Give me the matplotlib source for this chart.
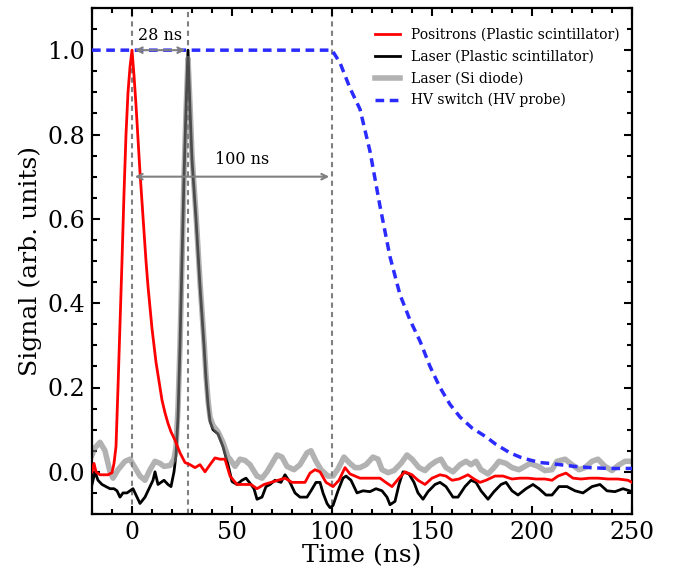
import matplotlib
matplotlib.use("Agg")
import matplotlib.pyplot as plt
from matplotlib.ticker import MultipleLocator

plt.rcParams['font.family'] = ['DejaVu Serif']
plt.rcParams['mathtext.fontset'] = 'dejavuserif'

# ---- data ----
pos_t = [-20, -19, -18, -16, -14, -12, -10, -9, -8, -7, -6, -5, -4, -3, -2, -1, 0, 1, 2, 3, 4, 5, 6, 7, 8, 9,
         10, 11, 12, 13, 14, 15, 16.5, 18, 19.5, 21.5, 24, 26.5, 29, 31.5, 34, 36.5, 39, 41.5, 44, 46.5, 49, 52.5,
         56, 59.5, 62.5, 66, 69.5, 73, 76.5, 80, 83.5, 86.5, 89, 91.5, 94, 97, 100.5, 103.5, 106.5, 109, 114,
         119, 124, 127.5, 130, 133.5, 136.5, 140, 143, 146.5, 150, 154, 157, 160, 163.5, 168, 171, 174, 177,
         181.5, 185.5, 190, 194, 198, 202, 206.5, 210, 213, 217, 220.5, 224.5, 229, 233, 238, 243, 248, 250]
pos_v = [0.0, 0.02, 0.0, -0.007, -0.007, -0.007, -0.002, 0.02, 0.06, 0.2, 0.35, 0.5, 0.66, 0.8, 0.9, 0.96,
         1.0, 0.94, 0.87, 0.79, 0.71, 0.64, 0.57, 0.5, 0.44, 0.39, 0.34, 0.3, 0.26, 0.23, 0.2, 0.17, 0.14,
         0.115, 0.095, 0.075, 0.045, 0.022, 0.017, 0.01, 0.017, 0.0, 0.017, 0.033, 0.03, 0.03, -0.01, -0.03, -0.03, -0.03,
         -0.04, -0.03, -0.025, -0.02, -0.015, -0.025, -0.025, -0.025, -0.003, 0.005, 0.0, -0.025, -0.035,
         -0.02, 0.01, -0.005, -0.015, -0.015, -0.015, -0.027, -0.035, -0.015, 0.0, -0.007, -0.02, -0.03,
         -0.015, -0.007, -0.01, -0.02, -0.017, -0.007, -0.017, -0.025, -0.02, -0.01, -0.01, -0.017, -0.015,
         -0.015, -0.017, -0.017, -0.02, -0.01, -0.003, -0.015, -0.017, -0.015, -0.015, -0.017, -0.017, -0.02,
         -0.025]

las_t = [-20, -18.5, -17, -15, -13, -11, -9, -7.5, -6, -4.5, -2.5, -1, 0.5, 2, 4, 6.5, 9, 10.5, 11.5, 13, 16,
         18, 19.5, 21, 22, 23, 24, 25, 26, 27, 28, 29, 30, 31, 32, 33, 34, 35, 36, 37, 38, 39, 40.5, 43, 45.5,
         48, 50, 52.5, 55, 57, 59.5, 61, 62.5, 65, 67, 69, 71.5, 74.5, 76.5, 79, 81.5, 84, 87.5, 89.5, 92, 94,
         95.5, 97.5, 99, 100.5, 103, 105.5, 107, 109.5, 112.5, 115.5, 119, 122, 125, 127.5, 129, 131.5, 133.5,
         135.5, 138.5, 141, 143, 145.5, 148, 151.5, 154, 157, 160.5, 163, 166.5, 169.5, 172, 174.5, 178, 181,
         184.5, 187, 190, 193, 197, 200.5, 203.5, 207, 210, 213.5, 217.5, 221.5, 225.5, 230, 234, 237.5,
         241.5, 245.5, 250]
las_v = [-0.03, 0.0, -0.02, -0.03, -0.035, -0.04, -0.04, -0.045, -0.06, -0.05, -0.05, -0.045, -0.04, -0.055,
         -0.075, -0.06, -0.035, -0.02, 0.0, -0.03, -0.02, -0.03, -0.035, 0.0, 0.04, 0.13, 0.3, 0.5, 0.7, 0.86,
         1.0, 0.86, 0.74, 0.67, 0.6, 0.52, 0.44, 0.37, 0.3, 0.22, 0.16, 0.12, 0.1, 0.09, 0.06, 0.017, -0.023,
         -0.03, -0.02, -0.015, -0.03, -0.04, -0.065, -0.06, -0.035, -0.03, -0.02, -0.025, -0.007, -0.025,
         -0.05, -0.06, -0.06, -0.045, -0.025, -0.025, -0.05, -0.075, -0.085, -0.08, -0.045, -0.015, -0.01,
         -0.02, -0.05, -0.045, -0.047, -0.04, -0.045, -0.06, -0.078, -0.07, -0.03, 0.0, -0.005, -0.025, -0.05,
         -0.065, -0.047, -0.03, -0.025, -0.035, -0.06, -0.06, -0.035, -0.02, -0.025, -0.045, -0.065, -0.047,
         -0.03, -0.025, -0.045, -0.055, -0.04, -0.03, -0.04, -0.055, -0.055, -0.035, -0.035, -0.045, -0.05,
         -0.035, -0.03, -0.045, -0.047, -0.04, -0.047]

si_t = [-20, -18.5, -16, -13.5, -11, -9.5, -7, -3.5, -1, 1.5, 4, 6.5, 9, 11.5, 14, 16, 19, 21, 22, 23, 24, 25,
        26, 27, 28, 29, 30, 31, 32, 33, 34, 35, 36, 37, 38, 39, 40.5, 43, 45.5, 48, 49, 51.5, 54, 56.5, 59,
        62.5, 65, 67.5, 70, 72.5, 75, 77.5, 81, 84, 87.5, 89.5, 92, 94.5, 98, 100.5, 103, 106, 109, 111.5, 114,
        117, 120.5, 123, 125, 128, 131, 134.5, 137.5, 140, 143.5, 146.5, 149, 152, 154.5, 157, 160.5, 164,
        167, 169.5, 172, 174.5, 178, 181, 183.5, 187, 190, 193.5, 196.5, 199, 203, 206.5, 210, 212.5, 216.5,
        220, 223.5, 226.5, 230, 233, 236.5, 240, 243, 246.5, 250]
si_v = [0.04, 0.057, 0.07, 0.05, 0.0, -0.015, 0.005, 0.025, 0.03, 0.01, -0.01, -0.02, 0.005, 0.025, 0.02,
        0.013, 0.015, 0.03, 0.06, 0.15, 0.3, 0.5, 0.7, 0.85, 0.98, 0.87, 0.75, 0.68, 0.61, 0.53, 0.45, 0.38,
        0.31, 0.23, 0.17, 0.13, 0.11, 0.095, 0.07, 0.035, 0.03, 0.013, 0.03, 0.027, 0.017, -0.01, -0.015, 0.0,
        0.02, 0.04, 0.035, 0.013, 0.005, 0.017, 0.045, 0.05, 0.025, 0.005, -0.01, -0.01, 0.007, 0.035, 0.02,
        0.01, 0.01, 0.017, 0.035, 0.03, 0.005, -0.002, 0.003, 0.02, 0.04, 0.03, 0.01, 0.003, 0.015, 0.025,
        0.03, 0.01, 0.0, 0.017, 0.025, 0.017, 0.025, 0.005, -0.005, 0.01, 0.025, 0.02, 0.01, 0.005, 0.013,
        0.02, 0.013, 0.003, 0.005, 0.025, 0.03, 0.017, 0.005, 0.01, 0.025, 0.03, 0.013, 0.003, 0.015, 0.025,
        0.025]

hv_t = [-20, 100, 104, 109, 114, 119, 124, 129, 134, 139, 144, 149, 154, 159, 164, 170, 177, 182, 189, 194,
        199, 204, 209, 214, 221, 229, 238, 250]
hv_v = [1.0, 1.0, 0.97, 0.91, 0.86, 0.76, 0.63, 0.51, 0.42, 0.36, 0.31, 0.25, 0.2, 0.16, 0.13, 0.104, 0.083,
        0.065, 0.045, 0.035, 0.028, 0.022, 0.02, 0.017, 0.013, 0.01, 0.008, 0.008]

labels = ['Positrons (Plastic scintillator)', 'Laser (Plastic scintillator)',
          'Laser (Si diode)', 'HV switch (HV probe)']
marker_times = [0, 28, 100]

# ---- figure ----
fig = plt.figure(figsize=(6.73, 5.77), dpi=100)
ax = fig.add_axes([92 / 673, 1 - 514 / 577, 540 / 673, 506 / 577])

ax.plot(pos_t, pos_v, color='red', lw=2, label=labels[0], zorder=3)
ax.plot(las_t, las_v, color='black', lw=2, label=labels[1], zorder=2)
ax.plot(si_t, si_v, color='gray', lw=4, alpha=0.6, label=labels[2], zorder=2.5)
ax.plot(hv_t, hv_v, color='#2b2bff', lw=2.5, ls=(0, (2.5, 1.6)), label=labels[3], zorder=3)

for t in marker_times:
    ax.axvline(t, color='gray', lw=1.5, ls=(0, (2.5, 2)), zorder=1)

ax.annotate('', xy=(28, 1.0), xytext=(0, 1.0),
            arrowprops=dict(arrowstyle='<->', color='gray', lw=1.5))
ax.text(14, 1.035, '28 ns', ha='center', va='center', fontsize=11.5)
ax.annotate('', xy=(100, 0.7), xytext=(0, 0.7),
            arrowprops=dict(arrowstyle='<->', color='gray', lw=1.5))
ax.text(55, 0.74, '100 ns', ha='center', va='center', fontsize=11.5)

ax.set_xlim(-20, 250)
ax.set_ylim(-0.1, 1.1)
ax.xaxis.set_major_locator(MultipleLocator(50))
ax.xaxis.set_minor_locator(MultipleLocator(10))
ax.yaxis.set_major_locator(MultipleLocator(0.2))
ax.yaxis.set_minor_locator(MultipleLocator(0.05))
ax.tick_params(which='both', direction='in', top=True, right=True, width=1.5)
ax.tick_params(which='major', length=6, labelsize=17, pad=5)
ax.tick_params(which='minor', length=3.5)
for s in ax.spines.values():
    s.set_linewidth(1.6)

ax.set_xlabel('Time (ns)', fontsize=18, labelpad=0)
ax.set_ylabel('Signal (arb. units)', fontsize=18, labelpad=4)

ax.legend(loc='upper right', frameon=False, fontsize=10, handlelength=1.8,
          bbox_to_anchor=(1.0, 0.985), labelspacing=0.55)

fig.savefig('out.png', dpi=100)
